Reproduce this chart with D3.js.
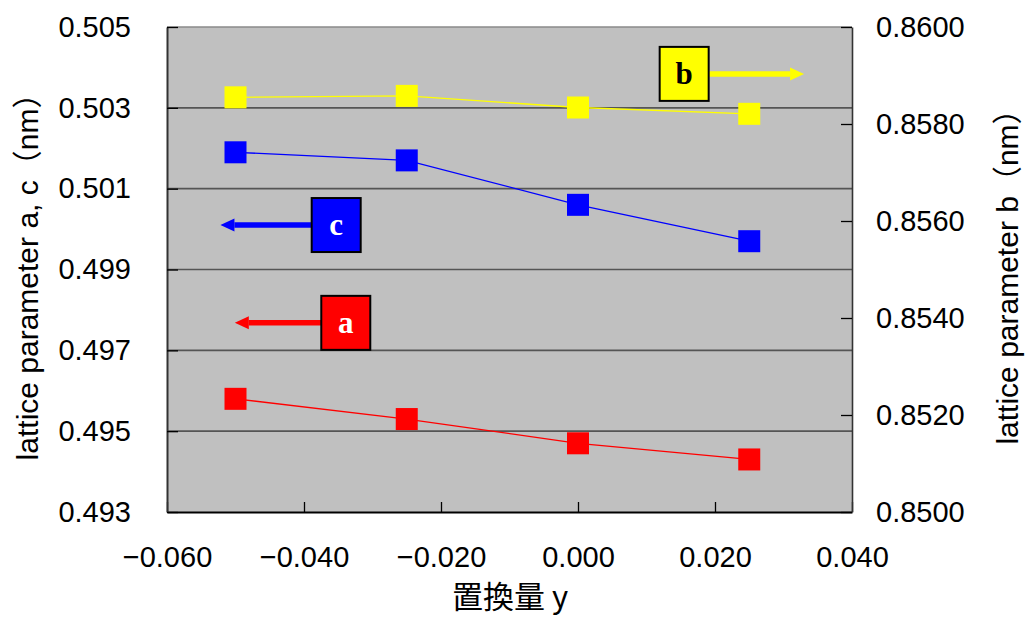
<!DOCTYPE html>
<html>
<head>
<meta charset="utf-8">
<script src="https://cdn.jsdelivr.net/npm/d3@7"></script>
<style>
  body { margin: 0; background: #fff; }
  svg { display: block; }
</style>
</head>
<body>
<div id="chart"></div>
<script>
// substitution amount y (x axis) and lattice parameters
const substitution = [-0.05, -0.025, 0, 0.025];
const latticeA = [0.4958, 0.4953, 0.4947, 0.4943];   // left axis
const latticeC = [0.5019, 0.5017, 0.5006, 0.4997];   // left axis
const latticeB = [0.85855, 0.85858, 0.85834, 0.85821]; // right axis

const xTicks = [-0.06, -0.04, -0.02, 0, 0.02, 0.04];
const leftTicks = [0.493, 0.495, 0.497, 0.499, 0.501, 0.503, 0.505];
const rightTicks = [0.850, 0.852, 0.854, 0.856, 0.858, 0.860];

// callout boxes (centre in data units of x / left axis, arrow tip in x units)
const callouts = [
    {name: "b", x: 0.0155, y: 0.50384, tipX: 0.0330, fill: "#FFFF00", ink: "#000"},
    {name: "c", x: -0.0353, y: 0.50010, tipX: -0.0522, fill: "#0000FF", ink: "#fff"},
    {name: "a", x: -0.0339, y: 0.49768, tipX: -0.0501, fill: "#FF0000", ink: "#fff"}
];

const width = 1026, height = 618;
const margin = {top: 27, right: 174, bottom: 106, left: 167};

const svg = d3.select("#chart").append("svg")
    .attr("width", width)
    .attr("height", height);

const x = d3.scaleLinear()
    .domain([-0.06, 0.04])
    .range([margin.left, width - margin.right]);

const yLeft = d3.scaleLinear()
    .domain([0.493, 0.505])
    .range([height - margin.bottom, margin.top]);

const yRight = d3.scaleLinear()
    .domain([0.850, 0.860])
    .range([height - margin.bottom, margin.top]);

// plot background
svg.append("rect")
    .attr("x", margin.left)
    .attr("y", margin.top)
    .attr("width", width - margin.left - margin.right)
    .attr("height", height - margin.top - margin.bottom)
    .attr("fill", "#C0C0C0");

// gridlines from the left axis
svg.append("g")
    .selectAll("line")
    .data(leftTicks.slice(1, -1))
    .join("line")
    .attr("x1", margin.left)
    .attr("x2", width - margin.right)
    .attr("y1", d => yLeft(d))
    .attr("y2", d => yLeft(d))
    .attr("stroke", "#555")
    .attr("stroke-width", 1.6);

// top border
svg.append("line")
    .attr("x1", margin.left).attr("x2", width - margin.right)
    .attr("y1", margin.top).attr("y2", margin.top)
    .attr("stroke", "#8a8a8a").attr("stroke-width", 1.5);

const tickFont = "'Liberation Sans', Arial, sans-serif";

// x axis
const xAxis = svg.append("g")
    .attr("transform", `translate(0,${height - margin.bottom})`)
    .call(d3.axisBottom(x).tickValues(xTicks).tickFormat(d3.format(".3f"))
        .tickSizeInner(-10).tickSizeOuter(0).tickPadding(34));

// left axis
const leftAxis = svg.append("g")
    .attr("transform", `translate(${margin.left},0)`)
    .call(d3.axisLeft(yLeft).tickValues(leftTicks).tickFormat(d3.format(".3f"))
        .tickSizeInner(-11).tickSizeOuter(0).tickPadding(36));

// right axis
const rightAxis = svg.append("g")
    .attr("transform", `translate(${width - margin.right},0)`)
    .call(d3.axisRight(yRight).tickValues(rightTicks).tickFormat(d3.format(".4f"))
        .tickSizeInner(-11).tickSizeOuter(0).tickPadding(24));

[xAxis, leftAxis, rightAxis].forEach(a => {
    a.selectAll("text")
        .attr("font-family", tickFont)
        .attr("font-size", 29)
        .attr("fill", "#000");
    a.selectAll(".tick line").attr("stroke", "#000").attr("stroke-width", 1.3);
    a.select(".domain").attr("stroke-width", 2);
});
xAxis.select(".domain").attr("stroke", "#000");
leftAxis.select(".domain").attr("stroke", "#333");
rightAxis.select(".domain").attr("stroke", "#333").attr("stroke-width", 1.6);

// series
const series = [
    {values: latticeA, color: "#FF0000", y: yLeft},
    {values: latticeC, color: "#0000FF", y: yLeft},
    {values: latticeB, color: "#FFFF00", y: yRight}
];

const markerSize = 22;

series.forEach(s => {
    const pts = substitution.map((d, i) => [d, s.values[i]]);
    svg.append("path")
        .datum(pts)
        .attr("fill", "none")
        .attr("stroke", s.color)
        .attr("stroke-width", 1.3)
        .attr("d", d3.line().x(d => x(d[0])).y(d => s.y(d[1])));

    svg.append("g")
        .selectAll("rect")
        .data(pts)
        .join("rect")
        .attr("x", d => x(d[0]) - markerSize / 2)
        .attr("y", d => s.y(d[1]) - markerSize / 2)
        .attr("width", markerSize)
        .attr("height", markerSize)
        .attr("fill", s.color);
});

// callouts: coloured box with a letter and an arrow to its axis
const boxW = 49, boxH = 54;
const callout = svg.append("g")
    .selectAll("g")
    .data(callouts)
    .join("g");

callout.each(function (d) {
    const g = d3.select(this);
    const cx = x(d.x), cy = yLeft(d.y), tip = x(d.tipX);
    const dir = tip > cx ? 1 : -1;
    const start = cx + dir * boxW / 2;
    const headLen = 14, headHalf = 6.5;

    g.append("line")
        .attr("x1", start)
        .attr("x2", tip - dir * headLen)
        .attr("y1", cy).attr("y2", cy)
        .attr("stroke", d.fill)
        .attr("stroke-width", 5.5);

    g.append("path")
        .attr("d", `M${tip},${cy} L${tip - dir * headLen},${cy - headHalf} L${tip - dir * headLen},${cy + headHalf} Z`)
        .attr("fill", d.fill);

    g.append("rect")
        .attr("x", cx - boxW / 2)
        .attr("y", cy - boxH / 2)
        .attr("width", boxW)
        .attr("height", boxH)
        .attr("fill", d.fill)
        .attr("stroke", "#000")
        .attr("stroke-width", 2);

    g.append("text")
        .attr("x", cx)
        .attr("y", cy + 10)
        .attr("text-anchor", "middle")
        .attr("font-family", "'Liberation Serif', 'DejaVu Serif', serif")
        .attr("font-weight", "bold")
        .attr("font-size", 31)
        .attr("fill", d.ink)
        .text(d.name);
});

// axis titles
const titleFont = "'Liberation Sans', 'Noto Sans CJK JP', sans-serif";

svg.append("text")
    .attr("transform", `translate(38,${(margin.top + height - margin.bottom) / 2}) rotate(-90)`)
    .attr("text-anchor", "middle")
    .attr("font-family", titleFont)
    .attr("font-size", 30)
    .text("lattice parameter a, c（nm）");

svg.append("text")
    .attr("transform", `translate(1018,${(margin.top + height - margin.bottom) / 2}) rotate(-90)`)
    .attr("text-anchor", "middle")
    .attr("font-family", titleFont)
    .attr("font-size", 30)
    .text("lattice parameter b（nm）");

svg.append("text")
    .attr("x", 510)
    .attr("y", 608)
    .attr("text-anchor", "middle")
    .attr("font-family", "'Noto Sans CJK JP', sans-serif")
    .attr("font-size", 31)
    .text("置換量 y");
</script>
</body>
</html>
